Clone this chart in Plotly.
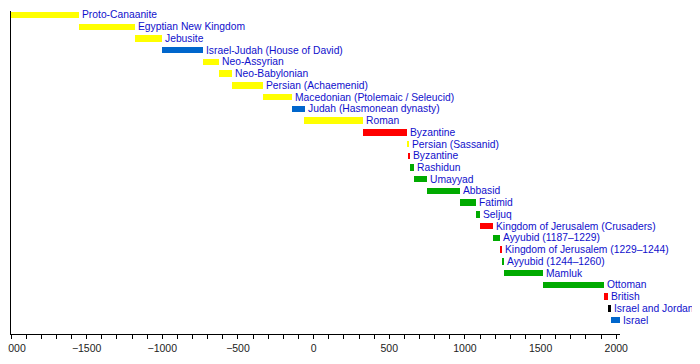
import plotly.graph_objects as go

names = ["Proto-Canaanite", "Egyptian New Kingdom", "Jebusite", "Israel-Judah (House of David)",
         "Neo-Assyrian", "Neo-Babylonian", "Persian (Achaemenid)", "Macedonian (Ptolemaic / Seleucid)",
         "Judah (Hasmonean dynasty)", "Roman", "Byzantine", "Persian (Sassanid)", "Byzantine",
         "Rashidun", "Umayyad", "Abbasid", "Fatimid", "Seljuq", "Kingdom of Jerusalem (Crusaders)",
         "Ayyubid (1187\u20131229)", "Kingdom of Jerusalem (1229\u20131244)", "Ayyubid (1244\u20131260)",
         "Mamluk", "Ottoman", "British", "Israel and Jordan", "Israel"]
starts = [-2000, -1550, -1180, -1000, -732, -626, -539, -332, -140, -63, 324, 614, 629,
          638, 661, 750, 969, 1073, 1099, 1187, 1229, 1244, 1260, 1516, 1917, 1948, 1967]
ends = [-1550, -1180, -1000, -732, -626, -539, -332, -140, -60, 324, 614, 629, 638,
        661, 750, 969, 1073, 1099, 1187, 1229, 1244, 1260, 1516, 1917, 1948, 1967, 2022]
kinds = ["y", "y", "y", "b", "y", "y", "y", "y", "b", "y", "r", "y", "r",
         "g", "g", "g", "g", "g", "r", "g", "r", "g", "g", "g", "r", "k", "b"]
palette = {"y": "#ffff00", "b": "#0066cc", "r": "#ff0000", "g": "#00aa00", "k": "#000000"}

rows = list(range(len(names)))
colors = [palette[k] for k in kinds]
durations = [e - s for s, e in zip(starts, ends)]

fig = go.Figure()
fig.add_trace(go.Bar(
    y=rows, x=durations, base=starts, orientation="h",
    marker=dict(color=colors, line=dict(width=0)), width=0.55,
    hoverinfo="skip", showlegend=False,
))

for r, e, n in zip(rows, ends, names):
    fig.add_annotation(x=e, y=r, text=n, showarrow=False, xanchor="left", yanchor="middle",
                       xshift=1, font=dict(family="Liberation Sans, Arial", size=10.3, color="#1010cc"))

fig.update_layout(
    width=692, height=356,
    margin=dict(l=3, r=80, t=3, b=30, autoexpand=False),
    plot_bgcolor="white", paper_bgcolor="white",
    bargap=0,
)
fig.update_xaxes(
    range=[-2000, 2025], showgrid=False, zeroline=False, automargin=False,
    showline=True, linecolor="black", linewidth=1,
    tickmode="linear", tick0=-2000, dtick=500,
    ticks="outside", ticklen=4, tickcolor="black", ticklabeloverflow="allow",
    tickfont=dict(family="Liberation Sans, Arial", size=10.5, color="#222222"),
    minor=dict(dtick=100, tick0=-2000, ticks="outside", ticklen=4, tickcolor="black", showgrid=False),
)
fig.update_yaxes(
    range=[27.19, -0.34], showgrid=False, zeroline=False, automargin=False,
    showline=True, linecolor="black", linewidth=1,
    showticklabels=False, ticks="",
)

fig.write_html("out.html")
